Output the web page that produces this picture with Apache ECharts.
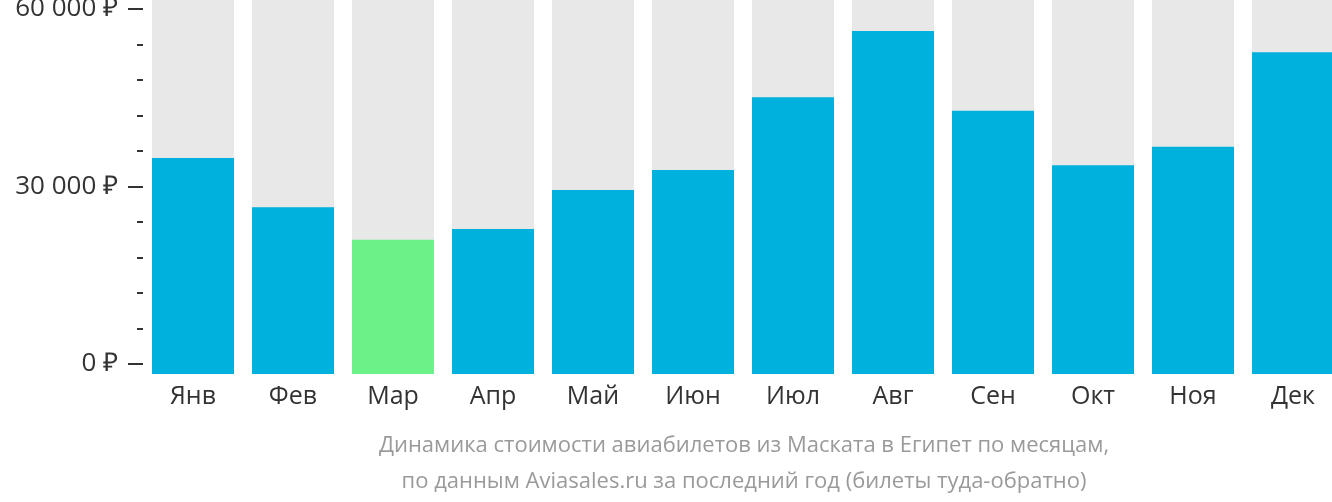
<!DOCTYPE html>
<html><head><meta charset="utf-8">
<script src="https://cdn.jsdelivr.net/npm/echarts@6/dist/echarts.min.js"></script>
<style>html,body{margin:0;padding:0;background:#fff}#c{width:1332px;height:502px}</style>
</head><body><div id="c"></div>
<script>
const months = ['Янв','Фев','Мар','Апр','Май','Июн','Июл','Авг','Сен','Окт','Ноя','Дек'];
const prices = [34800, 26500, 21000, 22800, 29400, 32800, 45100, 56300, 42800, 33600, 36700, 52700];
const yTickValues = [0, 30000, 60000];
const titleLines = ['Динамика стоимости авиабилетов из Маската в Египет по месяцам,',
                    'по данным Aviasales.ru за последний год (билеты туда-обратно)'];

const BLUE = '#00b0dd', GREEN = '#6cf088', GREY = '#e8e8e8';
const minIdx = prices.indexOf(Math.min(...prices));
const fmt = v => (v === 0 ? '0' : String(v).replace(/\B(?=(\d{3})+(?!\d))/g, ' ')) + ' ₽';

const chart = echarts.init(document.getElementById('c'), null, {renderer: 'canvas'});
chart.setOption({
  animation: false,
  backgroundColor: '#fff',
  textStyle: {fontFamily: 'Open Sans'},
  title: {
    text: titleLines.join('\n'),
    left: 739, top: 423, textAlign: 'center',
    textStyle: {fontFamily: 'Open Sans', fontSize: 22, fontWeight: 'normal', color: '#9a9a9a', lineHeight: 36}
  },
  grid: {left: 143, width: 1200, top: 9, height: 355, containLabel: false, outerBoundsMode: 'none'},
  xAxis: {
    type: 'category', data: months,
    axisLine: {show: false}, axisTick: {show: false}, splitLine: {show: false},
    axisLabel: {fontSize: 25, color: '#333', margin: 20, fontFamily: 'Open Sans'}
  },
  yAxis: {
    type: 'value', min: yTickValues[0], max: yTickValues[yTickValues.length - 1], interval: 30000,
    axisLine: {show: false}, splitLine: {show: false},
    axisTick: {show: true, length: 15, lineStyle: {color: '#333', width: 2}},
    minorTick: {show: true, splitNumber: 5, length: 6, lineStyle: {color: '#333', width: 2}},
    axisLabel: {fontSize: 26, color: '#333', margin: 25, padding: [4, 0, 0, 0], fontFamily: 'Open Sans', formatter: fmt}
  },
  series: [{
    type: 'custom', clip: false,
    data: prices.map((p, i) => [i, p]),
    encode: {x: 0, y: 1},
    renderItem: function (params, api) {
      const i = api.value(0), v = api.value(1);
      const base = api.coord([i, 0]);
      const top = api.coord([i, v]);
      const bw = api.size([1, 0])[0] * 0.82;
      const cs = params.coordSys;
      const x = base[0] - bw / 2;
      const bottom = base[1] + 10;
      const bgTop = cs.y - 9;
      return {type: 'group', children: [
        {type: 'rect', shape: {x: x, y: bgTop, width: bw, height: bottom - bgTop}, style: {fill: GREY}},
        {type: 'rect', shape: {x: x, y: top[1], width: bw, height: bottom - top[1]}, style: {fill: i === minIdx ? GREEN : BLUE}}
      ]};
    }
  }]
});
</script></body></html>
